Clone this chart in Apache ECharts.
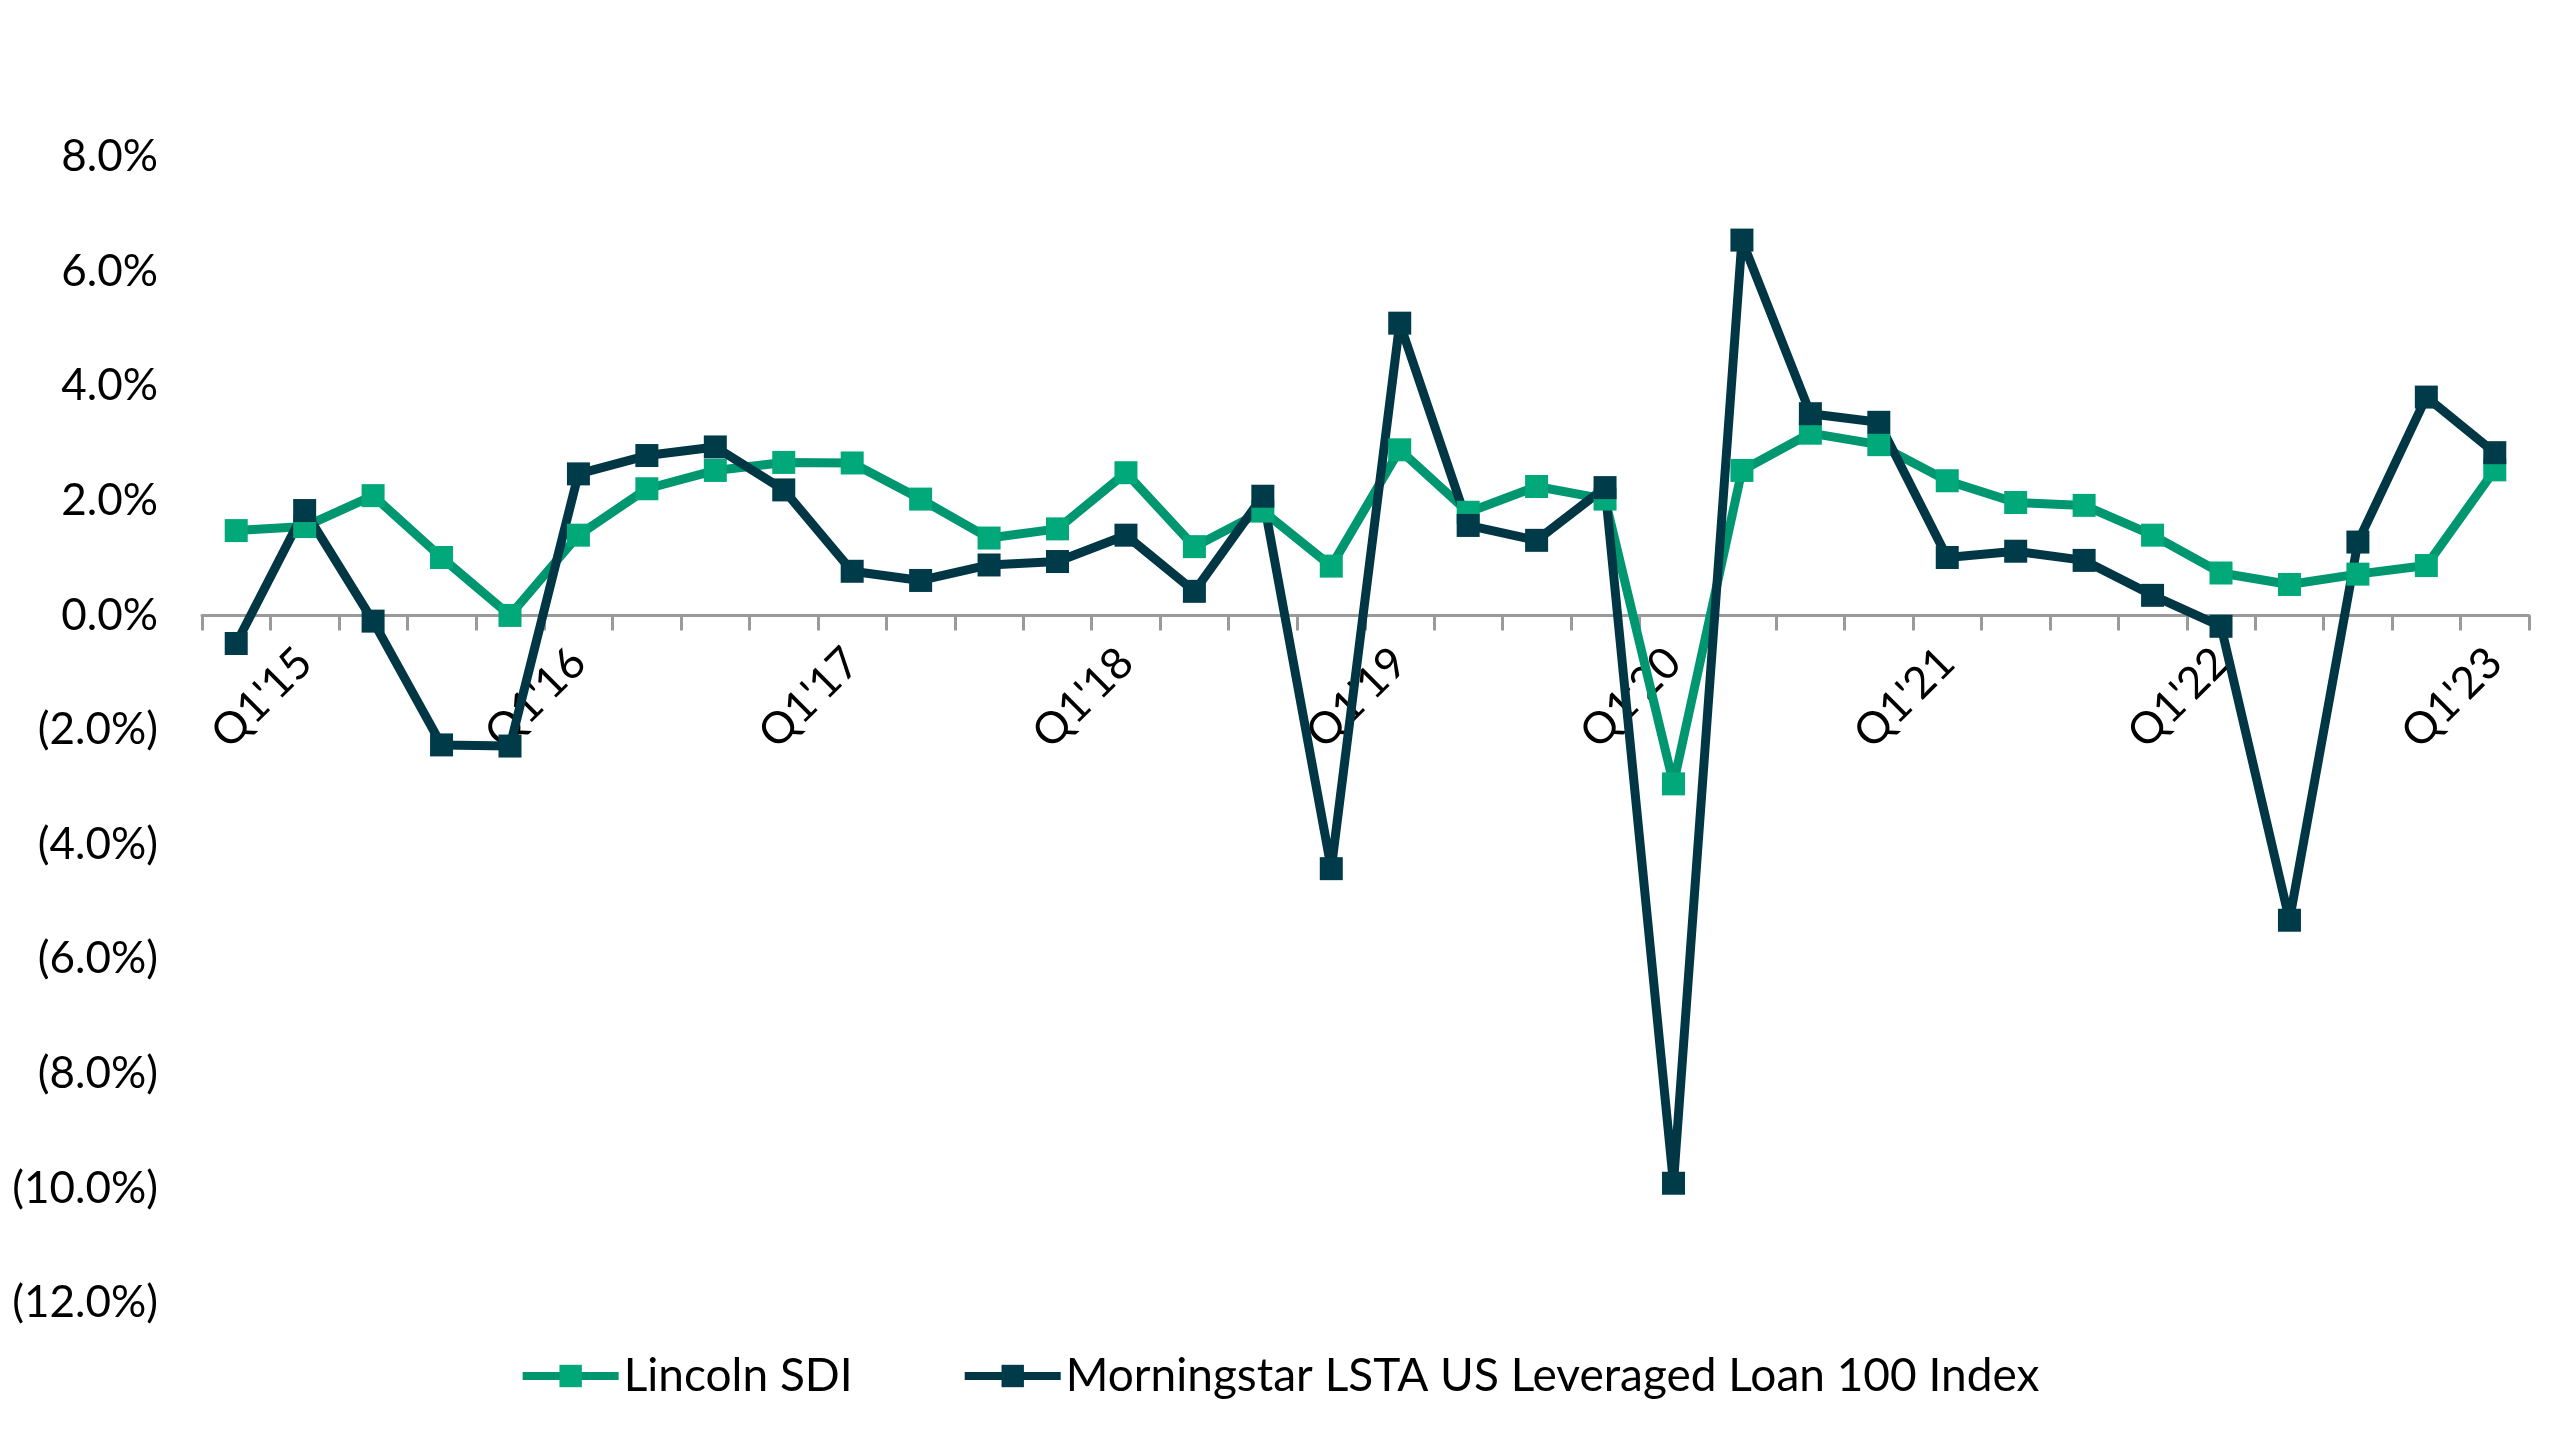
<!DOCTYPE html>
<html>
<head>
<meta charset="utf-8">
<script src="https://cdn.jsdelivr.net/npm/echarts@6/dist/echarts.min.js"></script>
<style>
  html, body { margin: 0; padding: 0; background: #fff; }
  #chart { width: 2558px; height: 1442px; }
</style>
</head>
<body>
<div id="chart"></div>
<script>
const categories = ["Q4'14",
  "Q1'15","Q2'15","Q3'15","Q4'15",
  "Q1'16","Q2'16","Q3'16","Q4'16",
  "Q1'17","Q2'17","Q3'17","Q4'17",
  "Q1'18","Q2'18","Q3'18","Q4'18",
  "Q1'19","Q2'19","Q3'19","Q4'19",
  "Q1'20","Q2'20","Q3'20","Q4'20",
  "Q1'21","Q2'21","Q3'21","Q4'21",
  "Q1'22","Q2'22","Q3'22","Q4'22",
  "Q1'23"];

const lincolnSDI = [1.48, 1.55, 2.09, 1.01, 0.00, 1.40, 2.21, 2.53, 2.67, 2.66,
  2.03, 1.35, 1.51, 2.49, 1.20, 1.82, 0.86, 2.89, 1.80, 2.25,
  2.03, -2.94, 2.53, 3.18, 2.98, 2.35, 1.97, 1.92, 1.40, 0.74,
  0.54, 0.72, 0.87, 2.54];

const lstaIndex = [-0.49, 1.83, -0.10, -2.26, -2.28, 2.47, 2.79, 2.94, 2.19, 0.77,
  0.61, 0.88, 0.94, 1.40, 0.42, 2.08, -4.42, 5.10, 1.57, 1.31,
  2.23, -9.91, 6.55, 3.52, 3.37, 1.01, 1.12, 0.96, 0.35, -0.19,
  -5.32, 1.28, 3.81, 2.84];

const seriesNames = ["Lincoln SDI", "Morningstar LSTA US Leveraged Loan 100 Index"];
const yMin = -12, yMax = 8, yStep = 2;

const FONT = "Lato";
const GRID_TOP = 157, GRID_BOTTOM = 139, H = 1442;
const chart = echarts.init(document.getElementById('chart'), null, { renderer: 'canvas' });

function pct(v) {
  const s = Math.abs(v).toFixed(1) + '%';
  return v < 0 ? '(' + s + ')' : s;
}

// distance from grid bottom edge up to the zero line (so the category axis sits at 0)
const gridH = H - GRID_TOP - GRID_BOTTOM;
const zeroOffset = -gridH * (0 - yMin) / (yMax - yMin);

chart.setOption({
  animation: false,
  backgroundColor: '#ffffff',
  textStyle: { fontFamily: FONT },
  grid: { left: 202, right: 29, top: GRID_TOP, bottom: GRID_BOTTOM, containLabel: false },
  legend: {
    data: seriesNames,
    bottom: 38,
    left: 'center',
    itemWidth: 96,
    itemHeight: 28,
    itemGap: 108,
    itemTextGap: 6,
    lineStyle: { width: 8 },
    textStyle: { fontFamily: FONT, fontSize: 46, color: '#000' }
  },
  xAxis: {
    type: 'category',
    data: categories,
    boundaryGap: true,
    position: 'bottom',
    offset: zeroOffset,
    axisLine: { onZero: false, lineStyle: { color: '#9a9a9a', width: 3 } },
    axisTick: { show: true, interval: 0, alignWithLabel: false, length: 15, lineStyle: { color: '#9a9a9a', width: 3 } },
    axisLabel: {
      interval: function (i) { return i % 4 === 1; },
      rotate: 45,
      margin: 40,
      fontFamily: FONT,
      fontSize: 44,
      color: '#000'
    },
    splitLine: { show: false }
  },
  yAxis: {
    type: 'value',
    min: yMin,
    max: yMax,
    interval: yStep,
    axisLine: { show: false },
    axisTick: { show: false },
    splitLine: { show: false },
    axisLabel: {
      formatter: pct,
      margin: 44,
      fontFamily: FONT,
      fontSize: 44,
      color: '#000'
    }
  },
  series: [
    {
      name: seriesNames[0],
      type: 'line',
      data: lincolnSDI,
      symbol: 'rect',
      symbolSize: 23,
      lineStyle: { color: '#009670', width: 9 },
      itemStyle: { color: '#00a87a' }
    },
    {
      name: seriesNames[1],
      type: 'line',
      data: lstaIndex,
      symbol: 'rect',
      symbolSize: 23,
      lineStyle: { color: '#013745', width: 9 },
      itemStyle: { color: '#003b4a' }
    }
  ]
});
</script>
</body>
</html>
